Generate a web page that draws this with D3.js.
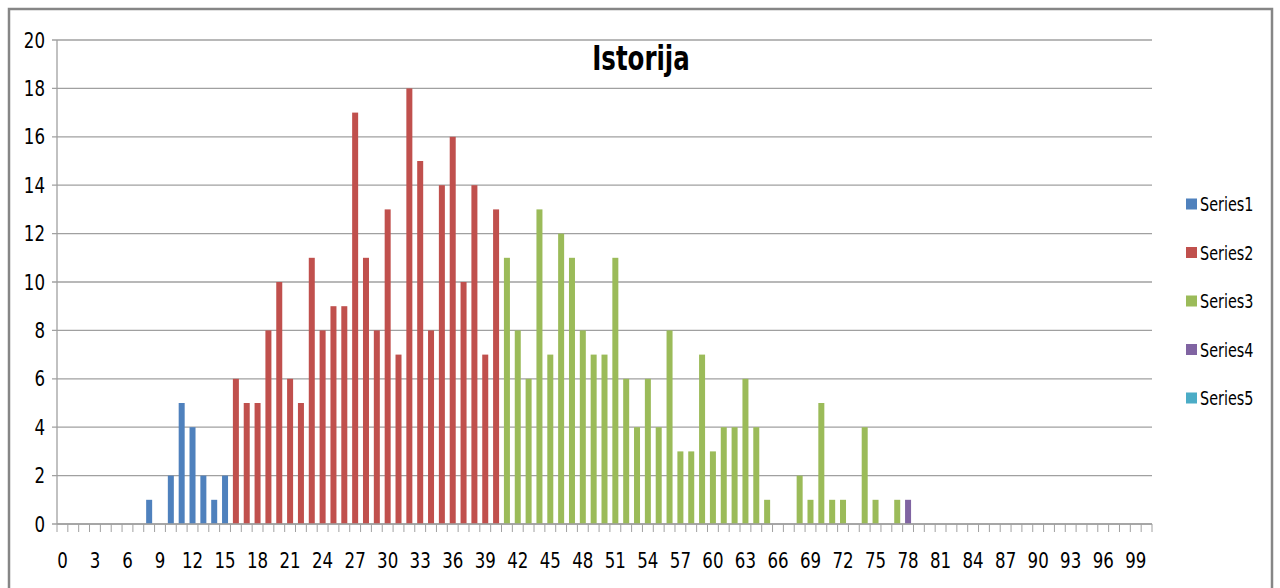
<!DOCTYPE html>
<html>
<head>
<meta charset="utf-8">
<script src="https://cdn.jsdelivr.net/npm/d3@7"></script>
<style>
  body { margin:0; background:#fff; }
  text { font-family: "DejaVu Sans Condensed", "Liberation Sans Narrow", sans-serif; fill:#000; }
</style>
</head>
<body>
<svg id="chart" width="1280" height="588"></svg>
<script>
// categories 0..100 on the x axis
var categories = d3.range(0, 101);
var yTicks = [0, 2, 4, 6, 8, 10, 12, 14, 16, 18, 20];

// each series: category positions and their values
var series1Cats = [8, 10, 11, 12, 13, 14, 15];
var series1Vals = [1, 2, 5, 4, 2, 1, 2];
var series2Cats = [16, 17, 18, 19, 20, 21, 22, 23, 24, 25, 26, 27, 28, 29, 30, 31, 32, 33, 34, 35, 36, 37, 38, 39, 40];
var series2Vals = [6, 5, 5, 8, 10, 6, 5, 11, 8, 9, 9, 17, 11, 8, 13, 7, 18, 15, 8, 14, 16, 10, 14, 7, 13];
var series3Cats = [41, 42, 43, 44, 45, 46, 47, 48, 49, 50, 51, 52, 53, 54, 55, 56, 57, 58, 59, 60, 61, 62, 63, 64, 65, 68, 69, 70, 71, 72, 74, 75, 77];
var series3Vals = [11, 8, 6, 13, 7, 12, 11, 8, 7, 7, 11, 6, 4, 6, 4, 8, 3, 3, 7, 3, 4, 4, 6, 4, 1, 2, 1, 5, 1, 1, 4, 1, 1];
var series4Cats = [78];
var series4Vals = [1];
var series5Cats = [];
var series5Vals = [];

var seriesNames = ["Series1", "Series2", "Series3", "Series4", "Series5"];
var seriesColors = ["#4f81bd", "#c0504d", "#9bbb59", "#8064a2", "#4bacc6"];

var allSeries = [
  [series1Cats, series1Vals],
  [series2Cats, series2Vals],
  [series3Cats, series3Vals],
  [series4Cats, series4Vals],
  [series5Cats, series5Vals]
];

var svg = d3.select("#chart");

// narrow look for the text (the original used Calibri)
var squeeze = 0.88;
function at(x, y, sx) {
  return "translate(" + x + "," + y + ") scale(" + (sx || squeeze) + ",1)";
}

// outer frame
svg.append("rect")
  .attr("x", 9).attr("y", 9)
  .attr("width", 1263).attr("height", 590)
  .attr("fill", "none")
  .attr("stroke", "#868686")
  .attr("stroke-width", 2.5);

var pLeft = 57, pRight = 1152, pTop = 40, pBottom = 524;

var xb = d3.scaleBand().domain(categories).range([pLeft, pRight]);
var y = d3.scaleLinear().domain([0, 20]).range([pBottom, pTop]);

// gridlines
svg.append("g")
  .selectAll("line")
  .data(yTicks)
  .enter().append("line")
  .attr("x1", pLeft - 5).attr("x2", pRight)
  .attr("y1", function(d) { return y(d); })
  .attr("y2", function(d) { return y(d); })
  .attr("stroke", "#a0a0a0")
  .attr("stroke-width", 1.3);

// y axis line
svg.append("line")
  .attr("x1", pLeft).attr("x2", pLeft)
  .attr("y1", pTop).attr("y2", pBottom)
  .attr("stroke", "#a0a0a0").attr("stroke-width", 1.3);

// y labels
svg.append("g")
  .selectAll("text")
  .data(yTicks)
  .enter().append("text")
  .attr("transform", function(d) { return at(45, y(d)); })
  .attr("dy", "0.36em")
  .attr("text-anchor", "end")
  .style("font-size", "21px")
  .text(function(d) { return d; });

// bars
allSeries.forEach(function(s, i) {
  svg.append("g")
    .selectAll("rect")
    .data(s[0].map(function(c, j) { return {cat: c, val: s[1][j]}; }))
    .enter().append("rect")
    .attr("x", function(d) { return xb(d.cat) + (xb.bandwidth() - 6) / 2; })
    .attr("width", 6)
    .attr("y", function(d) { return y(d.val); })
    .attr("height", function(d) { return pBottom - y(d.val); })
    .attr("fill", seriesColors[i]);
});

// x axis line and ticks
svg.append("line")
  .attr("x1", pLeft).attr("x2", pRight)
  .attr("y1", pBottom).attr("y2", pBottom)
  .attr("stroke", "#a0a0a0").attr("stroke-width", 1.3);

var tickPos = categories.map(function(c) { return xb(c); }).concat([pRight]);
svg.append("g")
  .selectAll("line")
  .data(tickPos)
  .enter().append("line")
  .attr("x1", function(d) { return d; }).attr("x2", function(d) { return d; })
  .attr("y1", pBottom).attr("y2", pBottom + 8)
  .attr("stroke", "#a0a0a0").attr("stroke-width", 1);

svg.append("g")
  .selectAll("text")
  .data(categories.filter(function(c) { return c % 3 === 0; }))
  .enter().append("text")
  .attr("transform", function(d) { return at(xb(d) + xb.bandwidth() / 2, 568); })
  .attr("text-anchor", "middle")
  .style("font-size", "21px")
  .text(function(d) { return d; });

// title
svg.append("text")
  .attr("transform", at(641, 70, 0.8))
  .attr("text-anchor", "middle")
  .style("font-size", "34px")
  .style("font-weight", "bold")
  .text("Istorija");

// legend
var legend = svg.selectAll(".legend")
  .data(seriesNames)
  .enter().append("g")
  .attr("class", "legend")
  .attr("transform", function(d, i) { return "translate(1186," + (204 + i * 48.5) + ")"; });

legend.append("rect")
  .attr("x", 0).attr("y", -5.5)
  .attr("width", 11).attr("height", 11)
  .attr("fill", function(d, i) { return seriesColors[i]; });

legend.append("text")
  .attr("transform", at(14, 0, 0.8))
  .attr("dy", "0.36em")
  .style("font-size", "20px")
  .text(function(d) { return d; });
</script>
</body>
</html>
